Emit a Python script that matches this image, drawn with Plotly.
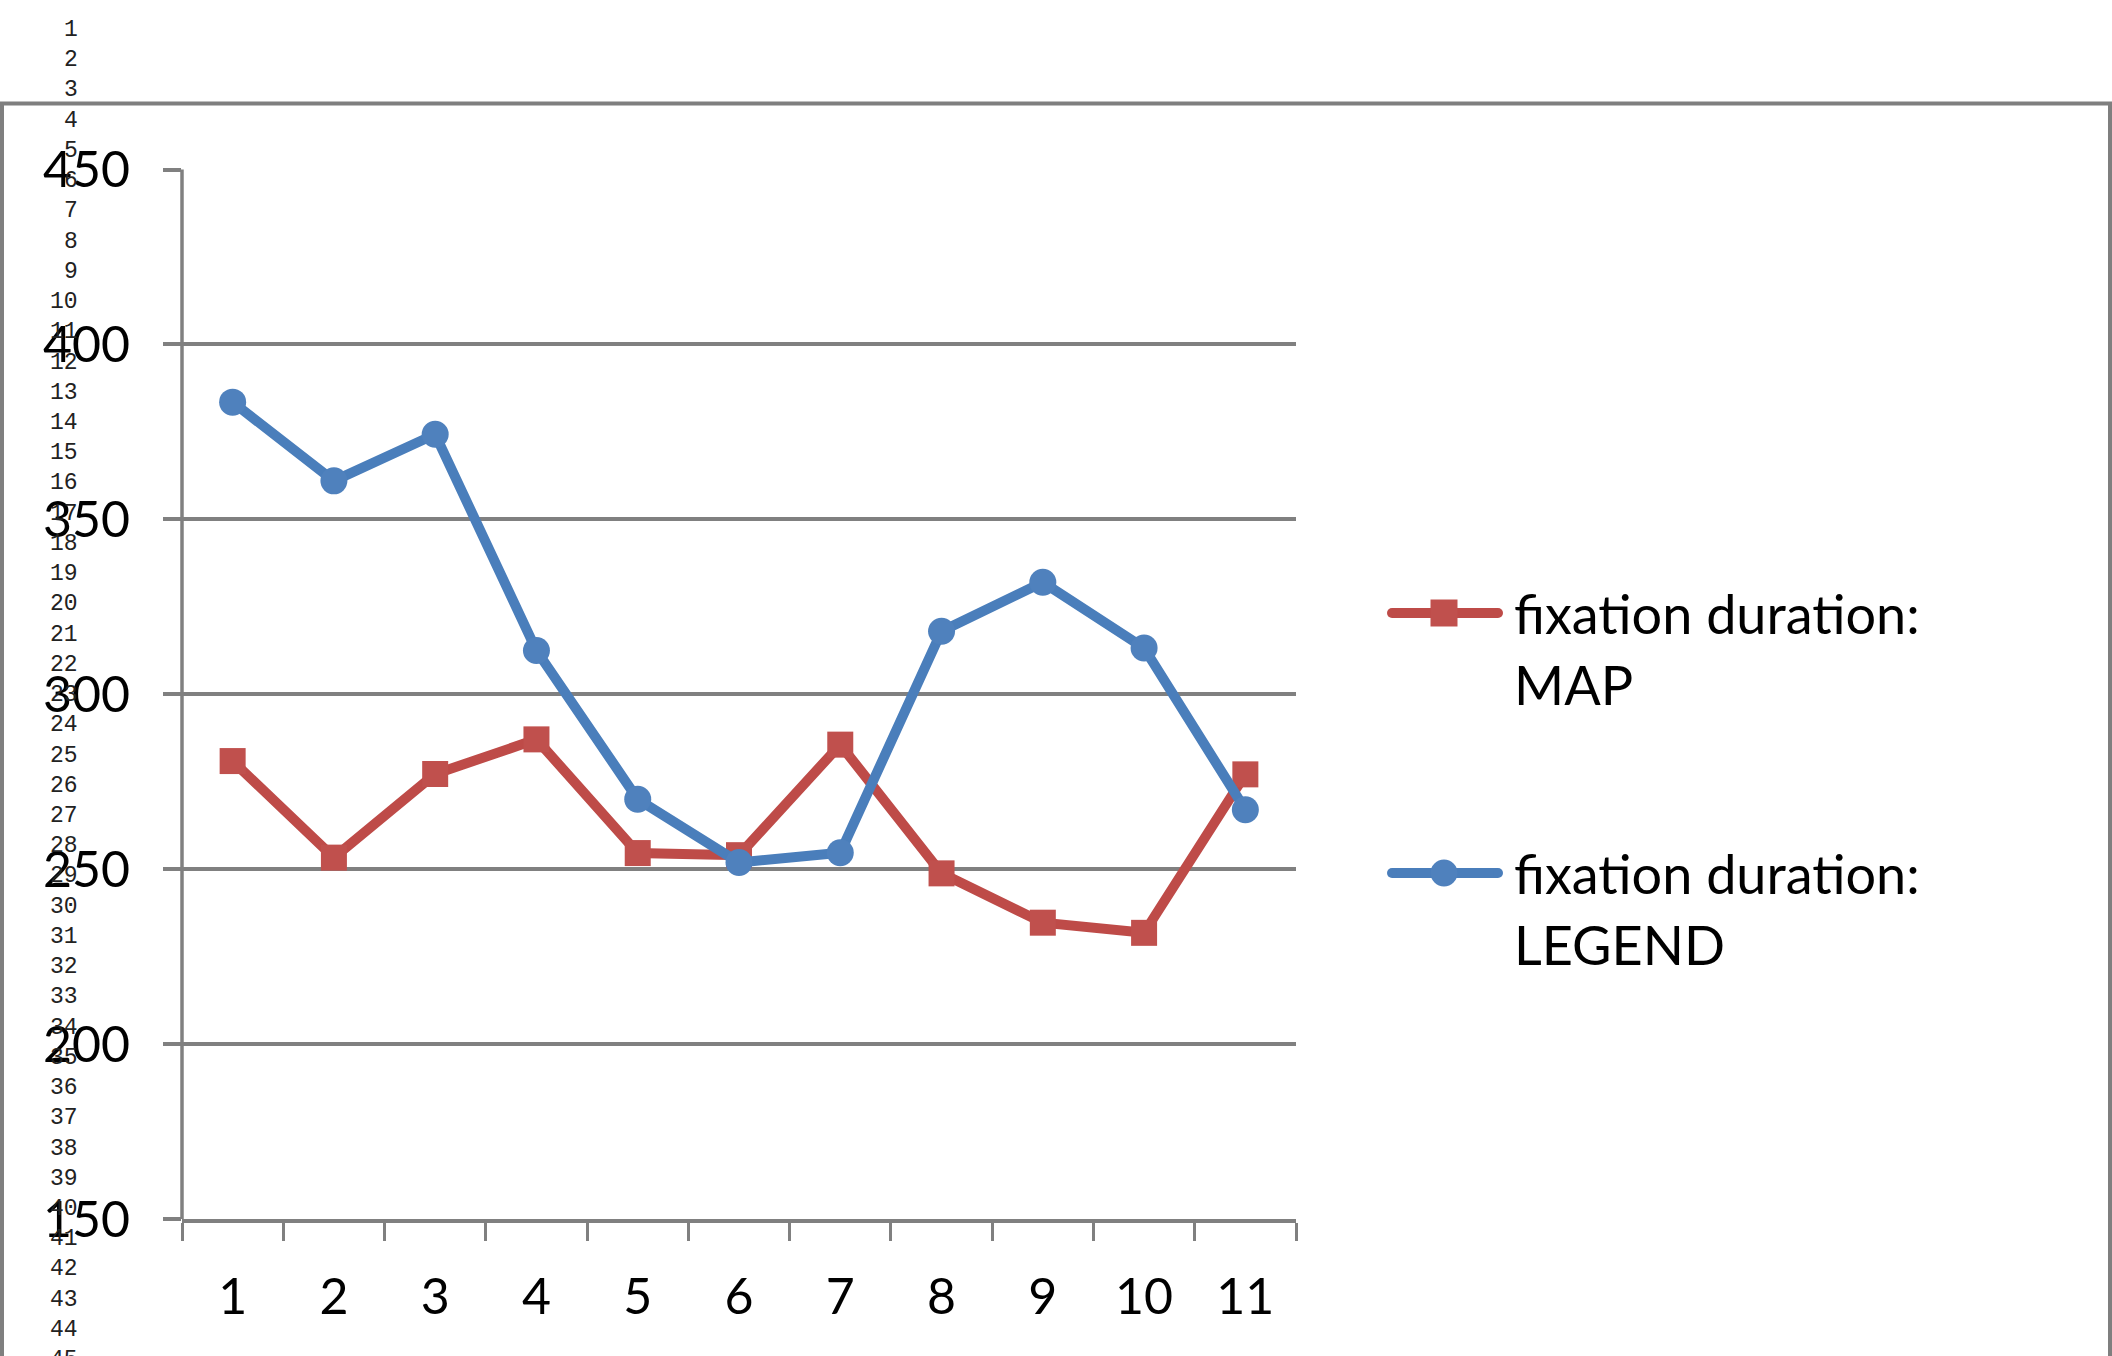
import plotly.graph_objects as go

# ---- data -------------------------------------------------------------
categories = ["1", "2", "3", "4", "5", "6", "7", "8", "9", "10", "11"]
map_duration = [280.9, 253.3, 277.2, 287.1, 254.6, 254.0, 285.6, 248.8, 234.7, 231.8, 277.1]
legend_duration = [383.5, 361.0, 374.3, 312.5, 270.0, 251.9, 254.7, 318.0, 332.0, 313.2, 267.0]
series_names = ["fixation duration: MAP", "fixation duration: LEGEND"]
y_ticks = [150, 200, 250, 300, 350, 400, 450]
row_numbers = list(range(1, 46))

# ---- styling ----------------------------------------------------------
W, H = 2112, 1356
RED_LINE, RED_MARK = "#BE4B48", "#C0504D"
BLUE_LINE, BLUE_MARK = "#4A7EBB", "#4F81BD"
GRID = "#808080"
FONT = "Lato"
PLOT_L, PLOT_R, PLOT_T, PLOT_B = 182, 1296, 169.5, 1219


def px(x):
    return x / W


def py(y):
    return (H - y) / H


fig = go.Figure()

fig.add_trace(go.Scatter(
    x=categories, y=map_duration, name=series_names[0], mode="lines+markers",
    line=dict(color=RED_LINE, width=10),
    marker=dict(symbol="square", size=26, color=RED_MARK, line=dict(width=0)),
))
fig.add_trace(go.Scatter(
    x=categories, y=legend_duration, name=series_names[1], mode="lines+markers",
    line=dict(color=BLUE_LINE, width=10),
    marker=dict(symbol="circle", size=27, color=BLUE_MARK, line=dict(width=0)),
))

fig.update_layout(
    width=W, height=H,
    margin=dict(l=0, r=0, t=0, b=0, autoexpand=False),
    paper_bgcolor="white", plot_bgcolor="white",
    showlegend=False,
    font=dict(family=FONT, color="black"),
    xaxis=dict(
        domain=[px(PLOT_L), px(PLOT_R)],
        type="category", categoryorder="array", categoryarray=categories,
        range=[-0.5, 10.5], automargin=False,
        tickson="boundaries", ticks="outside", ticklen=18, tickwidth=3, tickcolor=GRID,
        showline=True, linecolor=GRID, linewidth=3.5,
        showgrid=False, zeroline=False,
        tickfont=dict(family=FONT, size=50, color="black"),
        ticklabelstandoff=31,
    ),
    yaxis=dict(
        domain=[py(PLOT_B), py(PLOT_T)],
        range=[150, 450], tickvals=y_ticks, automargin=False,
        ticks="outside", ticklen=18, tickwidth=3.5, tickcolor=GRID,
        showline=False,
        showgrid=True, gridcolor=GRID, gridwidth=3.5, zeroline=False,
        tickfont=dict(family=FONT, size=50, color="black"),
        ticklabelstandoff=23,
    ),
)

shapes = []
annotations = []

# outer chart frame
shapes.append(dict(
    type="rect", xref="paper", yref="paper",
    x0=px(2), x1=px(2110), y0=py(1420), y1=py(103.5),
    line=dict(color="#7F7F7F", width=4), fillcolor="rgba(0,0,0,0)", layer="below",
))

# vertical axis line sitting exactly on the left edge of the plot area
shapes.append(dict(
    type="line", xref="paper", yref="paper",
    x0=px(PLOT_L), x1=px(PLOT_L), y0=py(PLOT_B), y1=py(PLOT_T),
    line=dict(color=GRID, width=3.5), layer="below",
))

# legend: long rounded stroke with the series marker on top, text on two lines
legend_rows = [
    (613, RED_LINE, RED_MARK, "square", series_names[0]),
    (873, BLUE_LINE, BLUE_MARK, "circle", series_names[1]),
]
stroke_x0, stroke_x1, mark_x = 1392, 1498, 1444
for ly, lcol, mcol, sym, name in legend_rows:
    shapes.append(dict(
        type="line", xref="paper", yref="paper",
        x0=px(stroke_x0), x1=px(stroke_x1), y0=py(ly), y1=py(ly),
        line=dict(color=lcol, width=10),
    ))
    for cx in (stroke_x0, stroke_x1):
        shapes.append(dict(
            type="circle", xref="paper", yref="paper",
            xsizemode="pixel", ysizemode="pixel", xanchor=px(cx), yanchor=py(ly),
            x0=-5, x1=5, y0=-5, y1=5, fillcolor=lcol, line=dict(width=0),
        ))
    shapes.append(dict(
        type="rect" if sym == "square" else "circle",
        xref="paper", yref="paper",
        xsizemode="pixel", ysizemode="pixel", xanchor=px(mark_x), yanchor=py(ly),
        x0=-13.5, x1=13.5, y0=-13.5, y1=13.5,
        fillcolor=mcol, line=dict(width=0),
    ))
    first, second = name.split(": ")
    for i, part in enumerate([first + ":", second]):
        annotations.append(dict(
            xref="paper", yref="paper", x=px(1512), y=py(ly + i * 71),
            xanchor="left", yanchor="middle", showarrow=False,
            text=part, font=dict(family=FONT, size=54, color="black"),
        ))

# numbered rows running down the left margin
for n in row_numbers:
    annotations.append(dict(
        xref="paper", yref="paper", x=px(80), y=py(30 + (n - 1) * 30.23),
        xanchor="right", yanchor="middle", showarrow=False,
        text=str(n), font=dict(family="Liberation Mono", size=23, color="#222222"),
    ))

fig.update_layout(shapes=shapes, annotations=annotations)
fig.write_html("out.html")
